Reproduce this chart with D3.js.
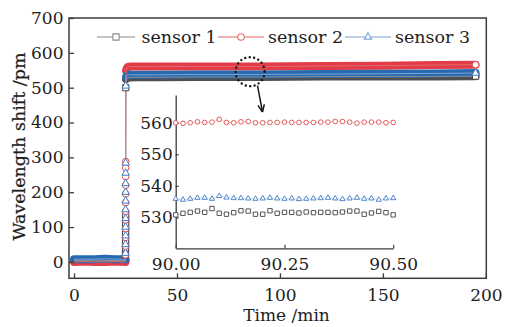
<!DOCTYPE html>
<html>
<head>
<meta charset="utf-8">
<script src="https://cdn.jsdelivr.net/npm/d3@7"></script>
<style>
  body { margin: 0; background: #fff; }
  svg { display: block; }
  text { font-family: "DejaVu Serif", serif; fill: #1e1e1e; }
</style>
</head>
<body>
<svg id="chart" width="505" height="327"></svg>
<script>
// ---- data ----
const seriesNames = ['sensor 1', 'sensor 2', 'sensor 3'];

// before the load step (min, pm)
const timeBase = [0, 5, 10, 15, 20, 25];
const s1Base = [4, 4, 5, 4, 4, 4];
const s2Base = [0, 1, 0, 0, 1, 0];
const s3Base = [8, 8, 8, 9, 8, 8];

// samples taken during the step
const timeJump = [25.0, 25.01, 25.02, 25.03, 25.04, 25.05, 25.06, 25.07, 25.08, 25.09, 25.1, 25.11];
const s1Jump = [20, 30, 40, 50, 62, 74, 86, 98, 110, 122, 134, 500];
const s2Jump = [20, 45, 70, 95, 120, 145, 170, 195, 220, 245, 270, 288];
const s3Jump = [25, 50, 75, 100, 125, 150, 175, 200, 225, 255, 284, 505];

// plateau after the step
const timePlat = [25.3, 25.6, 26, 27, 30, 40, 60, 90, 120, 150, 175, 195];
const s1Plat = [524, 527, 528, 529, 530, 530, 531, 531, 532, 532, 532, 533];
const s2Plat = [550, 556, 559, 561, 561, 561, 561, 561, 562, 563, 565, 566];
const s3Plat = [532, 535, 536, 537, 537, 537, 538, 538, 539, 540, 541, 542];

// inset: 90.00 - 90.50 min, one sample per second
const insetTime = d3.range(31).map(i => 90 + i / 60);
const s1Inset = [530.8, 531.3, 531.6, 532.0, 531.6, 532.8, 531.3, 531.0, 531.5, 532.1, 532.0, 531.0, 531.0, 532.1, 531.3, 531.6,
                 531.6, 531.4, 531.7, 531.5, 531.6, 531.6, 531.5, 531.7, 532.0, 532.0, 531.0, 531.4, 531.9, 531.5, 530.8];
const s2Inset = [560.0, 559.8, 560.0, 560.3, 560.1, 560.2, 561.1, 560.1, 560.0, 560.3, 560.4, 560.0, 560.0, 560.1, 560.1, 560.2,
                 560.1, 560.1, 560.1, 560.1, 560.2, 560.2, 560.4, 560.4, 560.2, 559.9, 560.2, 560.2, 560.2, 560.0, 560.1];
const s3Inset = [535.9, 535.6, 535.9, 536.2, 536.2, 535.9, 536.8, 536.3, 536.1, 536.1, 536.0, 535.9, 536.0, 536.2, 536.0, 535.9,
                 536.0, 535.8, 535.9, 536.0, 536.1, 536.2, 536.0, 535.8, 536.0, 536.2, 535.9, 536.0, 535.6, 536.0, 536.1];

const xTicks = [0, 50, 100, 150, 200];
const yTicks = [0, 100, 200, 300, 400, 500, 600, 700];
const insetXTicks = [90, 90.25, 90.5];
const insetYTicks = [530, 540, 550, 560];

// ---- styling per series ----
const series = [
  { name: seriesNames[0], base: s1Base, jump: s1Jump, plat: s1Plat, inset: s1Inset,
    symbol: d3.symbolSquare, band: '#4f4f4f', line: '#8c8c8c', mark: '#444444', size: 38, insetSize: 19 },
  { name: seriesNames[1], base: s2Base, jump: s2Jump, plat: s2Plat, inset: s2Inset,
    symbol: d3.symbolCircle, band: '#e23c48', line: '#e46a6a', mark: '#e04a4a', size: 34, insetSize: 17 },
  { name: seriesNames[2], base: s3Base, jump: s3Jump, plat: s3Plat, inset: s3Inset,
    symbol: d3.symbolTriangle, band: '#286ab0', line: '#7aa5d8', mark: '#3f7cc4', size: 24, insetSize: 12 }
];

const svg = d3.select('#chart');
const axisColor = '#3c3c3c';

const x = d3.scaleLinear().domain([-2.43, 200.2]).range([69, 486.3]);
const y = d3.scaleLinear().domain([-47, 700]).range([278.3, 18]);

// bands (dense markers merge into thick strokes)
const band = d3.line().x(d => x(d[0])).y(d => y(d[1]));
series.forEach(s => {
  [d3.zip(timeBase, s.base), d3.zip(timePlat, s.plat)].forEach(pts => {
    svg.append('path')
      .datum(pts)
      .attr('d', band).attr('fill', 'none')
      .attr('stroke', s.band).attr('stroke-width', 8)
      .attr('stroke-linecap', 'round').attr('stroke-linejoin', 'round');
  });
});

// thin connecting lines
series.forEach(s => {
  const pts = d3.zip(timeBase, s.base).concat(d3.zip(timeJump, s.jump), d3.zip(timePlat, s.plat));
  svg.append('path')
    .datum(pts)
    .attr('d', band).attr('fill', 'none')
    .attr('stroke', s.line).attr('stroke-width', 1);
});

// open markers of the step and the last sample
series.forEach(s => {
  const pts = d3.zip(timeJump, s.jump);
  pts.push([timePlat[timePlat.length - 1], s.plat[s.plat.length - 1]]);
  svg.append('g').selectAll('path')
    .data(pts)
    .join('path')
    .attr('transform', d => `translate(${x(d[0])},${y(d[1])})`)
    .attr('d', d3.symbol(s.symbol, s.size))
    .attr('fill', '#fff')
    .attr('stroke', s.mark).attr('stroke-width', 1);
});

// frame
svg.append('rect')
  .attr('x', x.range()[0]).attr('y', y.range()[1])
  .attr('width', x.range()[1] - x.range()[0])
  .attr('height', y.range()[0] - y.range()[1])
  .attr('fill', 'none').attr('stroke', axisColor).attr('stroke-width', 1.5);

// axes with inward ticks
const gx = svg.append('g')
  .attr('transform', `translate(0,${y.range()[0]})`)
  .call(d3.axisBottom(x).tickValues(xTicks).tickSizeInner(-5).tickSizeOuter(0).tickPadding(10.5));
const gy = svg.append('g')
  .attr('transform', `translate(${x.range()[0]},0)`)
  .call(d3.axisLeft(y).tickValues(yTicks).tickSizeInner(-5).tickSizeOuter(0).tickPadding(5.5));
[gx, gy].forEach(g => {
  g.select('.domain').remove();
  g.selectAll('.tick line').attr('stroke', axisColor).attr('stroke-width', 1.3);
  g.selectAll('.tick text').attr('font-size', 17).attr('font-family', '"DejaVu Serif", serif').attr('fill', '#1e1e1e');
});

// axis titles
svg.append('text')
  .attr('x', 286.5).attr('y', 320.5)
  .attr('text-anchor', 'middle').attr('font-size', 17)
  .text('Time /min');
svg.append('text')
  .attr('transform', 'translate(25,146.5) rotate(-90)')
  .attr('text-anchor', 'middle').attr('font-size', 17.5)
  .attr('stroke', '#1e1e1e').attr('stroke-width', 0.25)
  .text('Wavelength shift /pm');

// legend
const legendItems = [
  { s: series[0], x0: 97, x1: 135, tx: 141.5 },
  { s: series[1], x0: 218, x1: 264, tx: 268 },
  { s: series[2], x0: 345, x1: 391, tx: 395 }
];
const lg = svg.append('g');
legendItems.forEach(it => {
  lg.append('line')
    .attr('x1', it.x0).attr('x2', it.x1).attr('y1', 37).attr('y2', 37)
    .attr('stroke', it.s.line).attr('stroke-width', 1.2);
  lg.append('path')
    .attr('transform', `translate(${(it.x0 + it.x1) / 2},37)`)
    .attr('d', d3.symbol(it.s.symbol, it.s.size))
    .attr('fill', '#fff').attr('stroke', it.s.line).attr('stroke-width', 1.1);
  lg.append('text')
    .attr('x', it.tx).attr('y', 43.3).attr('font-size', 17.5)
    .text(it.s.name);
});

// zoom mark: dotted circle and arrow
svg.append('circle')
  .attr('cx', x(85.5)).attr('cy', y(546)).attr('r', 14.5)
  .attr('fill', 'none').attr('stroke', '#111').attr('stroke-width', 2.4)
  .attr('stroke-dasharray', '0 4.5').attr('stroke-linecap', 'round');
const ax0 = [257.5, 85.5], ax1 = [262.5, 112];
svg.append('line')
  .attr('x1', ax0[0]).attr('y1', ax0[1]).attr('x2', ax1[0]).attr('y2', ax1[1])
  .attr('stroke', '#111').attr('stroke-width', 1.4);
const ang = Math.atan2(ax1[1] - ax0[1], ax1[0] - ax0[0]);
[0.42, -0.42].forEach(da => {
  svg.append('line')
    .attr('x1', ax1[0]).attr('y1', ax1[1])
    .attr('x2', ax1[0] - 8 * Math.cos(ang + da)).attr('y2', ax1[1] - 8 * Math.sin(ang + da))
    .attr('stroke', '#111').attr('stroke-width', 1.4);
});

// ---- inset ----
const xi = d3.scaleLinear().domain([90, 90.5]).range([175.7, 393.2]);
const yi = d3.scaleLinear().domain([520.2, 568.8]).range([248.3, 95]);
const inset = svg.append('g');

const gxi = inset.append('g')
  .attr('transform', `translate(0,${yi.range()[0]})`)
  .call(d3.axisBottom(xi).tickValues(insetXTicks).tickFormat(d3.format('.2f'))
    .tickSizeInner(-3.5).tickSizeOuter(0).tickPadding(9.8));
const gyi = inset.append('g')
  .attr('transform', `translate(${xi.range()[0]},0)`)
  .call(d3.axisLeft(yi).tickValues(insetYTicks).tickSizeInner(-3).tickSizeOuter(0).tickPadding(3));
[gxi, gyi].forEach(g => {
  g.select('.domain').attr('stroke', axisColor).attr('stroke-width', 1.3);
  g.selectAll('.tick line').attr('stroke', axisColor).attr('stroke-width', 1.2);
  g.selectAll('.tick text').attr('font-size', 17).attr('font-family', '"DejaVu Serif", serif').attr('fill', '#1e1e1e');
});

const insetLine = d3.line().x((d, i) => xi(insetTime[i])).y(d => yi(d));
series.forEach(s => {
  inset.append('path')
    .datum(s.inset)
    .attr('d', insetLine).attr('fill', 'none')
    .attr('stroke', s.line).attr('stroke-width', 0.6).attr('stroke-opacity', 0.6);
  inset.append('g').selectAll('path')
    .data(s.inset)
    .join('path')
    .attr('transform', (d, i) => `translate(${xi(insetTime[i])},${yi(d)})`)
    .attr('d', d3.symbol(s.symbol, s.insetSize))
    .attr('fill', '#fff')
    .attr('stroke', s.mark).attr('stroke-width', 0.9);
});
</script>
</body>
</html>
